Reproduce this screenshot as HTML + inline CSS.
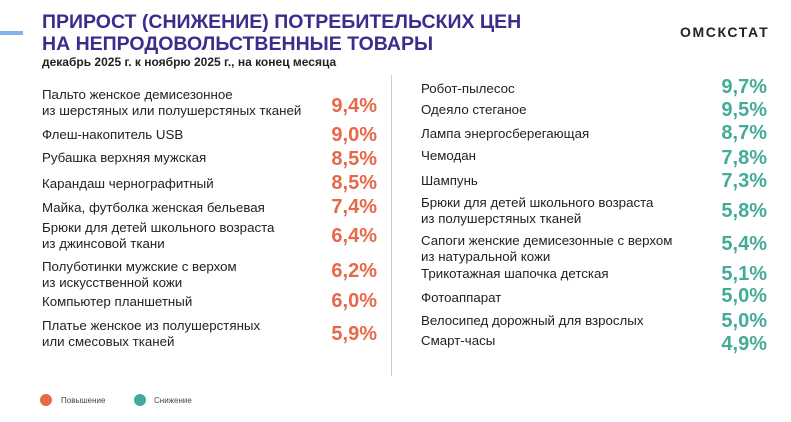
<!DOCTYPE html>
<html><head><meta charset="utf-8"><style>
body{margin:0;width:791px;height:422px;background:#fff;position:relative;overflow:hidden;font-family:"Liberation Sans",sans-serif;}
div{position:absolute;white-space:nowrap;}
.t{font-weight:bold;font-size:19.5px;color:#3a2d8c;left:42px;line-height:22px;}
.l{font-size:13.3px;color:#222;line-height:16px;transform:translateY(-50%);}
.v{font-size:20px;font-weight:bold;line-height:22px;transform:translateY(-50%);text-align:right;}
.o{color:#e8684a;right:414px;}
.g{color:#45ab99;right:24px;}
.L{left:42px}.R{left:421px}
</style></head><body>
<div style="left:0;top:31px;width:23px;height:4px;background:#7fb4ee"></div>
<div class="t" style="top:11px">ПРИРОСТ (СНИЖЕНИЕ) ПОТРЕБИТЕЛЬСКИХ ЦЕН</div>
<div class="t" style="top:33px">НА НЕПРОДОВОЛЬСТВЕННЫЕ ТОВАРЫ</div>
<div style="left:42px;top:55px;font-size:12px;font-weight:bold;color:#222">декабрь 2025 г. к ноябрю 2025 г., на конец месяца</div>
<div style="left:680px;top:24px;font-size:14px;font-weight:bold;color:#222;letter-spacing:1.6px">ОМСКСТАТ</div>
<div style="left:391px;top:75px;width:1px;height:301px;background:#ccc"></div>

<div class="l L" style="top:103px">Пальто женское демисезонное<br>из шерстяных или полушерстяных тканей</div><div class="v o" style="top:106px">9,4%</div>
<div class="l L" style="top:135px">Флеш-накопитель USB</div><div class="v o" style="top:135px">9,0%</div>
<div class="l L" style="top:158px">Рубашка верхняя мужская</div><div class="v o" style="top:159px">8,5%</div>
<div class="l L" style="top:184px">Карандаш чернографитный</div><div class="v o" style="top:183px">8,5%</div>
<div class="l L" style="top:208px">Майка, футболка женская бельевая</div><div class="v o" style="top:207px">7,4%</div>
<div class="l L" style="top:236px">Брюки для детей школьного возраста<br>из джинсовой ткани</div><div class="v o" style="top:236px">6,4%</div>
<div class="l L" style="top:275px">Полуботинки мужские с верхом<br>из искусственной кожи</div><div class="v o" style="top:271px">6,2%</div>
<div class="l L" style="top:302px">Компьютер планшетный</div><div class="v o" style="top:301px">6,0%</div>
<div class="l L" style="top:334px">Платье женское из полушерстяных<br>или смесовых тканей</div><div class="v o" style="top:334px">5,9%</div>

<div class="l R" style="top:89px">Робот-пылесос</div><div class="v g" style="top:87px">9,7%</div>
<div class="l R" style="top:110px">Одеяло стеганое</div><div class="v g" style="top:110px">9,5%</div>
<div class="l R" style="top:134px">Лампа энергосберегающая</div><div class="v g" style="top:133px">8,7%</div>
<div class="l R" style="top:156px">Чемодан</div><div class="v g" style="top:158px">7,8%</div>
<div class="l R" style="top:181px">Шампунь</div><div class="v g" style="top:181px">7,3%</div>
<div class="l R" style="top:211px">Брюки для детей школьного возраста<br>из полушерстяных тканей</div><div class="v g" style="top:211px">5,8%</div>
<div class="l R" style="top:249px">Сапоги женские демисезонные с верхом<br>из натуральной кожи</div><div class="v g" style="top:244px">5,4%</div>
<div class="l R" style="top:274px">Трикотажная шапочка детская</div><div class="v g" style="top:274px">5,1%</div>
<div class="l R" style="top:298px">Фотоаппарат</div><div class="v g" style="top:296px">5,0%</div>
<div class="l R" style="top:321px">Велосипед дорожный для взрослых</div><div class="v g" style="top:321px">5,0%</div>
<div class="l R" style="top:341px">Смарт-часы</div><div class="v g" style="top:344px">4,9%</div>

<div style="left:40px;top:394px;width:12px;height:12px;border-radius:50%;background:#e8684a"></div>
<div style="left:61px;top:396px;font-size:8px;color:#444">Повышение</div>
<div style="left:134px;top:394px;width:12px;height:12px;border-radius:50%;background:#45ab99"></div>
<div style="left:154px;top:396px;font-size:8px;color:#444">Снижение</div>
</body></html>
